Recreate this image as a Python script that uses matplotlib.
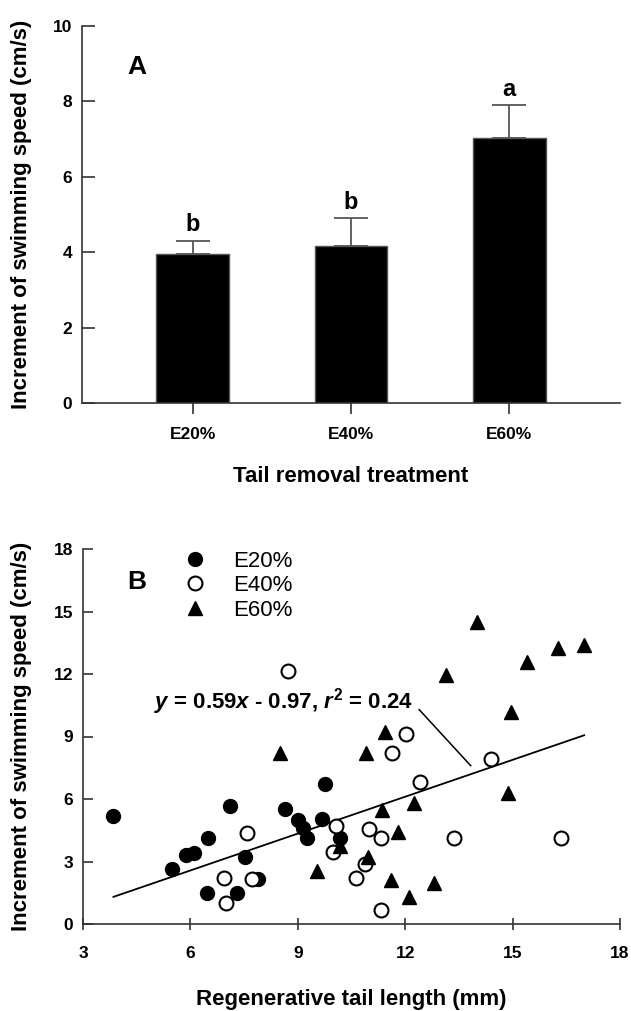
import matplotlib
matplotlib.use("Agg")
import matplotlib.pyplot as plt
from matplotlib.lines import Line2D

plt.rcParams['font.family'] = ['Liberation Sans', 'DejaVu Sans']
plt.rcParams['mathtext.fontset'] = 'custom'
plt.rcParams['mathtext.rm'] = 'Liberation Sans:bold'
plt.rcParams['mathtext.it'] = 'Liberation Sans:italic:bold'

# === Panel A data ===
treatments = ['E20%', 'E40%', 'E60%']
mean_speed = [3.96, 4.17, 7.02]
se_speed = [0.35, 0.73, 0.89]
letters = ['b', 'b', 'a']

# === Panel B data ===
e20_x = [3.85, 5.49, 5.87, 6.10, 6.49, 6.46, 7.12, 7.29, 7.52, 7.89, 8.64, 9.01, 9.15, 9.25, 9.67, 9.76, 10.18]
e20_y = [5.19, 2.64, 3.32, 3.40, 4.12, 1.47, 5.67, 1.50, 3.24, 2.15, 5.51, 5.00, 4.60, 4.12, 5.03, 6.73, 4.12]

e40_x = [6.94, 6.99, 7.57, 7.72, 8.73, 9.99, 10.08, 10.63, 10.88, 11.00, 11.32, 11.32, 11.62, 12.02, 12.41, 13.37, 14.40, 16.35]
e40_y = [2.23, 0.99, 4.36, 2.18, 12.16, 3.48, 4.70, 2.23, 2.88, 4.55, 4.12, 0.67, 8.20, 9.13, 6.81, 4.12, 7.91, 4.15]

e60_x = [8.50, 9.54, 10.18, 10.97, 10.90, 11.34, 11.44, 11.59, 11.81, 12.11, 12.25, 12.81, 13.13, 14.00, 14.86, 14.95, 15.39, 16.28, 17.00]
e60_y = [8.20, 2.55, 3.75, 3.24, 8.20, 5.48, 9.20, 2.12, 4.44, 1.31, 5.80, 1.95, 11.97, 14.50, 6.31, 10.20, 12.60, 13.25, 13.37]

slope, intercept = 0.59, -0.97
fit_x = [3.85, 17.0]

axis_col = '#333333'

fig = plt.figure(figsize=(6.31, 10.11), dpi=100)

# ---------- A ----------
axA = fig.add_axes([82 / 631, 1 - 403 / 1011, 538 / 631, 377 / 1011])
pos = list(range(len(treatments)))
axA.bar(pos, mean_speed, width=0.46, color='black', edgecolor='#555555', linewidth=1, zorder=2)
axA.errorbar(pos, mean_speed, yerr=[[0] * 3, se_speed], fmt='none', ecolor='#555555',
             elinewidth=1.3, capsize=12, capthick=1.3, zorder=1)
for p, m, s, l in zip(pos, mean_speed, se_speed, letters):
    axA.annotate(l, (p, m + s), xytext=(0, 3), textcoords='offset points',
                 ha='center', va='bottom', fontsize=17, fontweight='bold')
axA.set_xlim(-0.70, 2.70)
axA.set_ylim(0, 10)
axA.set_xticks(pos)
axA.set_xticklabels(treatments)
axA.set_yticks(range(0, 11, 2))
axA.tick_params(axis='y', direction='in', length=9, width=1.2, color=axis_col, pad=7)
axA.tick_params(axis='x', direction='out', length=8, width=1.2, color=axis_col, pad=9)
axA.text(0.102, 0.891, 'A', transform=axA.transAxes, fontsize=19, fontweight='bold',
         ha='center', va='center')
axA.set_xlabel('Tail removal treatment', fontsize=16, fontweight='bold', va='center')
axA.xaxis.set_label_coords(0.5, -73 / 377)
axA.set_ylabel('Increment of swimming speed (cm/s)', fontsize=16, fontweight='bold', va='center')
axA.yaxis.set_label_coords(-60 / 538, 0.5)

# ---------- B ----------
axB = fig.add_axes([83 / 631, 1 - 924 / 1011, 537 / 631, 375 / 1011])
axB.plot(fit_x, [slope * v + intercept for v in fit_x], color='black', lw=1.3, zorder=1)
axB.plot(e20_x, e20_y, 'o', ms=10, mfc='black', mec='black', ls='none', label='E20%', zorder=3)
axB.plot(e40_x, e40_y, 'o', ms=10, mfc='white', mec='black', mew=1.5, ls='none', label='E40%', zorder=3)
axB.plot(e60_x, e60_y, '^', ms=10, mfc='black', mec='black', ls='none', label='E60%', zorder=3)
axB.plot([12.39, 13.83], [10.29, 7.6], color='black', lw=1.1)
axB.text(8.59, 10.67, r'$y$ = 0.59$x$ - 0.97, $r^2$ = 0.24', fontsize=16, fontweight='bold',
         ha='center', va='center')
axB.text(0.10, 0.913, 'B', transform=axB.transAxes, fontsize=19, fontweight='bold',
         ha='center', va='center')
axB.legend(loc='upper left', bbox_to_anchor=(0.188, 0.995), frameon=False, fontsize=16,
           handlelength=1.0, handletextpad=1.2, labelspacing=0.15, borderpad=0,
           borderaxespad=0)
axB.set_xlim(3, 18)
axB.set_ylim(0, 18)
axB.set_xticks(range(3, 19, 3))
axB.set_yticks(range(0, 19, 3))
axB.tick_params(axis='y', direction='in', length=7.5, width=1.2, color=axis_col, pad=7)
axB.tick_params(axis='x', direction='inout', length=8, width=1.2, color=axis_col, pad=12)
axB.set_xlabel('Regenerative tail length (mm)', fontsize=16, fontweight='bold', va='center')
axB.xaxis.set_label_coords(0.5, -76 / 375)
axB.set_ylabel('Increment of swimming speed (cm/s)', fontsize=16, fontweight='bold', va='center')
axB.yaxis.set_label_coords(-61 / 537, 0.5)

for ax in (axA, axB):
    for side in ('top', 'right'):
        ax.spines[side].set_visible(False)
    for side in ('left', 'bottom'):
        ax.spines[side].set_color(axis_col)
        ax.spines[side].set_linewidth(1.2)
    for lab in ax.get_xticklabels() + ax.get_yticklabels():
        lab.set_fontweight('bold')
        lab.set_fontsize(12.5)

fig.savefig('out.png', dpi=100)
